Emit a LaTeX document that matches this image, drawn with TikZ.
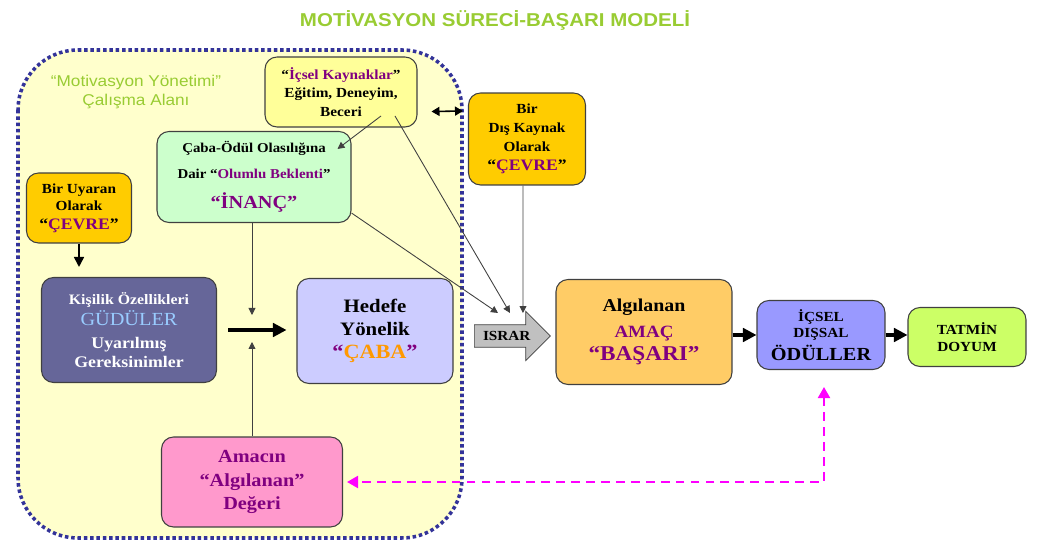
\documentclass[tikz,border=0pt]{standalone}
\usepackage{fontspec}
\setmainfont{Liberation Serif}[FakeStretch=1.1]
\newfontfamily\sanslab{Liberation Sans}[FakeStretch=1.1]
\usetikzlibrary{arrows.meta,shapes.arrows}
\definecolor{titlegreen}{RGB}{153,204,51}
\definecolor{areayellow}{RGB}{255,255,204}
\definecolor{areanavy}{RGB}{51,51,153}
\definecolor{paleyellow}{RGB}{255,255,153}
\definecolor{gold}{RGB}{255,204,0}
\definecolor{palegreen}{RGB}{204,255,204}
\definecolor{slate}{RGB}{102,102,153}
\definecolor{lightblue}{RGB}{153,204,255}
\definecolor{lavender}{RGB}{204,204,255}
\definecolor{cabaorange}{RGB}{255,153,0}
\definecolor{amacpink}{RGB}{255,153,204}
\definecolor{silver}{RGB}{192,192,192}
\definecolor{lightorange}{RGB}{255,204,102}
\definecolor{periwinkle}{RGB}{153,153,255}
\definecolor{tatminlime}{RGB}{204,255,102}
\definecolor{boxline}{RGB}{64,64,64}
\definecolor{txtpurple}{RGB}{128,0,128}
\definecolor{fbmagenta}{RGB}{255,0,255}
\def\fsz#1#2{\fontsize{#1}{#2}\selectfont}

\begin{document}
\begin{tikzpicture}[x=0.02cm,y=-0.02cm,
    box/.style={draw=boxline,line width=0.6pt,rounded corners=0.24cm,align=center,font=\bfseries\fsz{7.9}{10.4}},
    link/.style={draw=black!75,line width=0.5pt,-{Triangle[length=1.4mm,width=1.4mm]}},
    flow/.style={line width=1.8pt,-{Triangle[length=2.7mm,width=2.7mm]}},
    feedback/.style={draw=fbmagenta,line width=1.1pt,dash pattern=on 5pt off 3.5pt,{Triangle[length=2.2mm,width=2.4mm]}-{Triangle[length=2.2mm,width=2.4mm]}},
    area/.style={fill=areayellow,draw=areanavy,line width=2pt,dash pattern=on 2pt off 1.6pt,rounded corners=1.2cm}]
		%%%%% START %%%%%
		\useasboundingbox (0,0) rectangle (1039,543);
		
		\node[font=\sanslab\bfseries\fsz{10.6}{13},text=titlegreen] (title) at (495,20) {MOTİVASYON SÜRECİ-BAŞARI MODELİ};
		
		\draw[area] (18,50) rectangle (462,538);
		\node[font=\sanslab\fsz{8.9}{11.3},text=titlegreen,align=center] (arealabel) at (136,92) {“Motivasyon Yönetimi”\\Çalışma Alanı};
		
		\node[box,fill=paleyellow,minimum width=3.04cm,minimum height=1.4cm] (icsel) at (341,92)
			{“\textcolor{txtpurple}{İçsel Kaynaklar}”\\Eğitim, Deneyim,\\Beceri};
		\node[box,fill=gold,minimum width=2.34cm,minimum height=1.84cm,font=\bfseries\fsz{7.9}{10.8}] (dis) at (527,139)
			{Bir\\Dış Kaynak\\Olarak\\{\fsz{9.1}{11}“\textcolor{txtpurple}{ÇEVRE}”}};
		\node[box,fill=palegreen,minimum width=3.88cm,minimum height=1.82cm,font=\bfseries\fsz{7.7}{14.7}] (inanc) at (254,177)
			{Çaba-Ödül Olasılığına\\Dair “\textcolor{txtpurple}{Olumlu Beklenti}”\\[2.3pt]{\fsz{10.5}{12}\color{txtpurple}“İNANÇ”}};
		\node[box,fill=gold,minimum width=2.1cm,minimum height=1.4cm,font=\bfseries\fsz{7.9}{9.6}] (cevre) at (79,208)
			{Bir Uyaran\\Olarak\\[1.2pt]{\fsz{9.1}{11}“\textcolor{txtpurple}{ÇEVRE}”}};
		\node[box,fill=slate,text=white,minimum width=3.5cm,minimum height=2.1cm,font=\bfseries\fsz{9.2}{10.8}] (gudu) at (129,330)
			{{\fsz{8.2}{10}Kişilik Özellikleri}\\[1.1pt]{\mdseries\fsz{10.5}{12}\color{lightblue}GÜDÜLER}\\[2.2pt]Uyarılmış\\Gereksinimler};
		\node[box,fill=lavender,minimum width=3.12cm,minimum height=2.1cm,font=\bfseries\fsz{10.8}{13.3}] (caba) at (375,331)
			{Hedefe\\Yönelik\\{\fsz{11.5}{13}\textcolor{txtpurple}{“}\textcolor{cabaorange}{ÇABA}\textcolor{txtpurple}{”}}};
		\node[box,fill=amacpink,text=txtpurple,minimum width=3.62cm,minimum height=1.8cm,font=\bfseries\fsz{10.5}{13.3}] (amac) at (252,482)
			{Amacın\\“Algılanan”\\Değeri};
		
		\node[single arrow,draw=boxline,fill=silver,single arrow head extend=0.27cm,single arrow head indent=0pt,
			minimum height=1.52cm,text height=5.5pt,text depth=0pt,inner ysep=3.4pt,font=\bfseries\fsz{7.9}{9},anchor=tail] (israr) at (474,336) {ISRAR};
		
		\node[box,fill=lightorange,minimum width=3.52cm,minimum height=2.1cm,font=\bfseries\fsz{10.3}{13}] (algi) at (644,332)
			{Algılanan\\[1.7pt]{\fsz{9.8}{11}\color{txtpurple}AMAÇ}\\{\fsz{12}{13}\color{txtpurple}“BAŞARI”}};
		\node[box,fill=periwinkle,minimum width=2.56cm,minimum height=1.38cm,font=\bfseries\fsz{7.9}{9.6}] (odul) at (821,335)
			{İÇSEL\\DIŞSAL\\[1.6pt]{\fsz{10.5}{12}ÖDÜLLER}};
		\node[box,fill=tatminlime,minimum width=2.36cm,minimum height=1.18cm,font=\bfseries\fsz{7.9}{9.6}] (tatmin) at (967,337)
			{TATMİN\\DOYUM};
		
		% connectors
		\coordinate (meet) at (252,330);
		\draw[line width=0.9pt,{Triangle[length=1.6mm,width=1.8mm]}-{Triangle[length=1.6mm,width=1.8mm]}]
			([xshift=0.28cm,yshift=0.32cm]icsel.south east) -- ([xshift=-0.1cm,yshift=0.56cm]dis.west);
		\draw[line width=0.9pt,-{Triangle[length=2mm,width=2mm]}] (cevre.south) -- ([yshift=0.2cm]cevre.south |- gudu.north);
		\draw[link] ([xshift=0.8cm,yshift=-0.48cm]icsel.center) -- ([xshift=-0.28cm,yshift=-0.36cm]inanc.north east);
		\draw[link] ([xshift=1.08cm,yshift=-0.48cm]icsel.center) -- ([xshift=0.72cm,yshift=0.46cm]israr.tail);
		\draw[link] ([yshift=0.2cm]inanc.south east) -- ([xshift=0.48cm,yshift=0.46cm]israr.tail);
		\draw[link] ([xshift=-0.08cm]dis.south) -- ([xshift=0.98cm,yshift=0.46cm]israr.tail);
		\draw[link] (inanc.south -| meet) -- ([yshift=0.3cm]meet);
		\draw[link] (amac.north -| meet) -- ([yshift=-0.24cm]meet);
		\draw[flow,shorten <=0.22cm,shorten >=0.2cm] (gudu.east) -- (gudu.east -| caba.west);
		\draw[flow] (algi.east |- odul.west) -- (odul.west);
		\draw[flow] (odul.east) -- (odul.east -| tatmin.west);
		\draw[feedback] ([xshift=0.06cm,yshift=-0.34cm]odul.south) |- ([xshift=0.08cm]amac.east);
		
		%%%%% END %%%%%
\end{tikzpicture}
\end{document}
